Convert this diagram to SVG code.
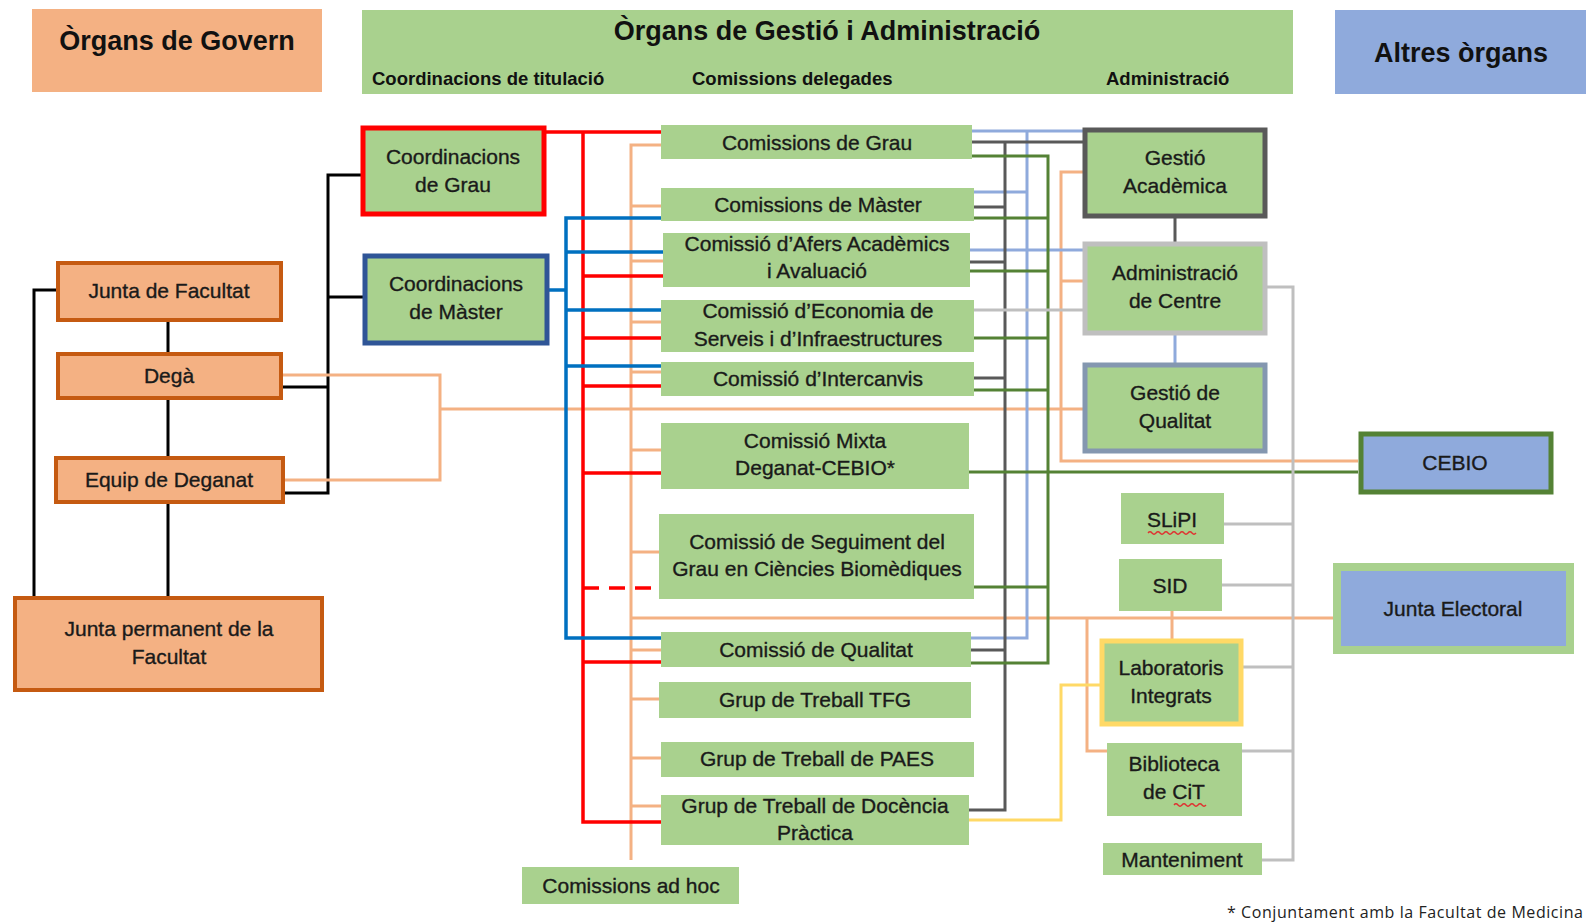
<svg xmlns="http://www.w3.org/2000/svg" width="1586" height="923" viewBox="0 0 1586 923">
<style>
.t{font-family:"Liberation Sans",Arial,sans-serif;font-size:21px;fill:#1a1a1a;stroke:#1a1a1a;stroke-width:0.35;text-anchor:middle}
.h{font-family:"Liberation Sans",Arial,sans-serif;font-weight:bold;font-size:27px;fill:#111;text-anchor:middle}
.s{font-family:"Liberation Sans",Arial,sans-serif;font-weight:bold;font-size:18.5px;fill:#111}
.fn{font-family:"Open Sans","Liberation Sans",sans-serif;font-size:16px;fill:#222}
.g{fill:#A9D18E}
.o{fill:#F4B183;stroke:#C55A11;stroke-width:4}
.c{fill:none;stroke-linejoin:miter}
.bk{stroke:#000;stroke-width:3}
.or{stroke:#F4B183;stroke-width:3}
.rd{stroke:#FF0000;stroke-width:3.5}
.bl{stroke:#0070C0;stroke-width:3.5}
.lb{stroke:#8FAADC;stroke-width:3}
.dg{stroke:#595959;stroke-width:3}
.gr{stroke:#548235;stroke-width:3}
.lg{stroke:#BFBFBF;stroke-width:3}
.ye{stroke:#FFD966;stroke-width:3}
.sq{fill:none;stroke:#E03030;stroke-width:1.3}
</style>

<!-- headers -->
<g id="hdr-govern">
  <rect x="32" y="9" width="290" height="83" fill="#F4B183"/>
  <text class="h" x="177" y="50">Òrgans de Govern</text>
</g>
<g id="hdr-gestio">
  <rect x="362" y="10" width="931" height="84" class="g"/>
  <text class="h" x="827" y="40">Òrgans de Gestió i Administració</text>
  <text class="s" x="372" y="85">Coordinacions de titulació</text>
  <text class="s" x="692" y="85">Comissions delegades</text>
  <text class="s" x="1106" y="85">Administració</text>
</g>
<g id="hdr-altres">
  <rect x="1335" y="10" width="251" height="84" fill="#8FAADC"/>
  <text class="h" x="1461" y="62">Altres òrgans</text>
</g>

<!-- connectors -->
<g id="connectors" class="c">
  <!-- black -->
  <path class="c bk" d="M168 320V354M168 398V458M168 502V596M58 290H34V596M362 175H328V493H283M364 297H328M281 387H328"/>
  <!-- light orange -->
  <path class="c or" d="M281 375H440V480H283M440 409H1083"/>
  <path class="c or" d="M661 145H631V860M631 206H661M631 261H663M631 322H661M631 372H661M631 450H661M631 552H659M631 650H661M631 699H659M631 758H661M631 806H661M631 618H1333"/>
  <path class="c or" d="M1083 172H1061V461H1358M1061 281H1083M1172 611V639M1087 618V751H1107"/>
  <!-- red -->
  <path class="c rd" d="M546 132H661M583 132V822H661M583 276H663M583 338H661M583 386H661M583 473H661M583 662H661"/>
  <path class="c rd" d="M583 588H659" stroke-dasharray="16 10"/>
  <!-- blue -->
  <path class="c bl" d="M548 290H566M661 218H566V638H661M566 252H663M566 310H661M566 366H661"/>
  <!-- light blue -->
  <path class="c lb" d="M972 131H1083M971 638H1027V131M974 192H1027M970 250H1083M1175 334V363"/>
  <!-- dark grey -->
  <path class="c dg" d="M972 142H1083M969 810H1005V142M974 207H1005M970 262H1005M974 378H1005M971 650H1005M1175 217V242"/>
  <!-- green -->
  <path class="c gr" d="M972 156H1048V663H971M974 218H1048M970 271H1048M974 338H1048M974 390H1048M969 472H1358M974 587H1048"/>
  <!-- light grey -->
  <path class="c lg" d="M974 310H1083M1267 287H1293V860H1262M1224 524H1293M1222 585H1293M1243 667H1293M1242 751H1293"/>
  <!-- yellow -->
  <path class="c ye" d="M969 820H1061V685H1100"/>
</g>

<!-- Òrgans de Govern -->
<g id="junta-facultat">
  <rect class="o" x="58" y="263" width="223" height="57"/>
  <text class="t" x="169" y="298">Junta de Facultat</text>
</g>
<g id="dega">
  <rect class="o" x="58" y="354" width="223" height="44"/>
  <text class="t" x="169" y="383">Degà</text>
</g>
<g id="equip-deganat">
  <rect class="o" x="56" y="458" width="227" height="44"/>
  <text class="t" x="169" y="487">Equip de Deganat</text>
</g>
<g id="junta-permanent">
  <rect class="o" x="15" y="598" width="307" height="92" stroke-width="6"/>
  <text class="t" x="169" y="636">Junta permanent de la</text>
  <text class="t" x="169" y="664">Facultat</text>
</g>

<!-- Coordinacions -->
<g id="coord-grau">
  <rect x="363" y="128" width="181" height="86" class="g" stroke="#FF0000" stroke-width="5"/>
  <text class="t" x="453" y="164">Coordinacions</text>
  <text class="t" x="453" y="192">de Grau</text>
</g>
<g id="coord-master">
  <rect x="365" y="256" width="182" height="87" class="g" stroke="#2F5597" stroke-width="5"/>
  <text class="t" x="456" y="291">Coordinacions</text>
  <text class="t" x="456" y="319">de Màster</text>
</g>

<!-- Comissions -->
<g id="com-grau">
  <rect x="661" y="125" width="311" height="34" class="g"/>
  <text class="t" x="817" y="150">Comissions de Grau</text>
</g>
<g id="com-master">
  <rect x="661" y="188" width="313" height="33" class="g"/>
  <text class="t" x="818" y="212">Comissions de Màster</text>
</g>
<g id="com-afers">
  <rect x="663" y="233" width="307" height="54" class="g"/>
  <text class="t" x="817" y="251">Comissió d’Afers Acadèmics</text>
  <text class="t" x="817" y="278">i Avaluació</text>
</g>
<g id="com-economia">
  <rect x="661" y="300" width="313" height="52" class="g"/>
  <text class="t" x="818" y="318">Comissió d’Economia de</text>
  <text class="t" x="818" y="346">Serveis i d’Infraestructures</text>
</g>
<g id="com-intercanvis">
  <rect x="661" y="362" width="313" height="34" class="g"/>
  <text class="t" x="818" y="386">Comissió d’Intercanvis</text>
</g>
<g id="com-mixta">
  <rect x="661" y="423" width="308" height="66" class="g"/>
  <text class="t" x="815" y="448">Comissió Mixta</text>
  <text class="t" x="815" y="475">Deganat-CEBIO*</text>
</g>
<g id="com-seguiment">
  <rect x="659" y="514" width="315" height="85" class="g"/>
  <text class="t" x="817" y="549">Comissió de Seguiment del</text>
  <text class="t" x="817" y="576">Grau en Ciències Biomèdiques</text>
</g>
<g id="com-qualitat">
  <rect x="661" y="632" width="310" height="35" class="g"/>
  <text class="t" x="816" y="657">Comissió de Qualitat</text>
</g>
<g id="gt-tfg">
  <rect x="659" y="682" width="312" height="36" class="g"/>
  <text class="t" x="815" y="707">Grup de Treball TFG</text>
</g>
<g id="gt-paes">
  <rect x="661" y="742" width="313" height="35" class="g"/>
  <text class="t" x="817" y="766">Grup de Treball de PAES</text>
</g>
<g id="gt-docencia">
  <rect x="661" y="795" width="308" height="50" class="g"/>
  <text class="t" x="815" y="813">Grup de Treball de Docència</text>
  <text class="t" x="815" y="840">Pràctica</text>
</g>
<g id="com-adhoc">
  <rect x="522" y="867" width="217" height="37" class="g"/>
  <text class="t" x="631" y="893">Comissions ad hoc</text>
</g>

<!-- Administració -->
<g id="gestio-academica">
  <rect x="1085" y="130" width="180" height="86" class="g" stroke="#595959" stroke-width="5"/>
  <text class="t" x="1175" y="165">Gestió</text>
  <text class="t" x="1175" y="193">Acadèmica</text>
</g>
<g id="administracio-centre">
  <rect x="1085" y="244" width="180" height="89" class="g" stroke="#BFBFBF" stroke-width="5"/>
  <text class="t" x="1175" y="280">Administració</text>
  <text class="t" x="1175" y="308">de Centre</text>
</g>
<g id="gestio-qualitat">
  <rect x="1085" y="365" width="180" height="86" class="g" stroke="#8497B0" stroke-width="5"/>
  <text class="t" x="1175" y="400">Gestió de</text>
  <text class="t" x="1175" y="428">Qualitat</text>
</g>
<g id="slipi">
  <rect x="1121" y="493" width="103" height="51" class="g"/>
  <text class="t" x="1172" y="527">SLiPI</text>
  <path class="sq" d="M1148 533q2 -2.5 4 0t4 0t4 0t4 0t4 0t4 0t4 0t4 0t4 0t4 0t4 0t4 0"/>
</g>
<g id="sid">
  <rect x="1119" y="559" width="103" height="52" class="g"/>
  <text class="t" x="1170" y="593">SID</text>
</g>
<g id="laboratoris">
  <rect x="1102" y="641" width="139" height="83" class="g" stroke="#FFD966" stroke-width="5"/>
  <text class="t" x="1171" y="675">Laboratoris</text>
  <text class="t" x="1171" y="703">Integrats</text>
</g>
<g id="biblioteca">
  <rect x="1107" y="743" width="135" height="73" class="g"/>
  <text class="t" x="1174" y="771">Biblioteca</text>
  <text class="t" x="1174" y="799">de CiT</text>
  <path class="sq" d="M1174 805q2 -2.5 4 0t4 0t4 0t4 0t4 0t4 0t4 0t4 0"/>
</g>
<g id="manteniment">
  <rect x="1103" y="843" width="159" height="32" class="g"/>
  <text class="t" x="1182" y="867">Manteniment</text>
</g>

<!-- Altres òrgans -->
<g id="cebio">
  <rect x="1361" y="434" width="190" height="58" fill="#8FAADC" stroke="#548235" stroke-width="5"/>
  <text class="t" x="1455" y="470">CEBIO</text>
</g>
<g id="junta-electoral">
  <rect x="1337" y="567" width="233" height="83" fill="#8FAADC" stroke="#A9D18E" stroke-width="8"/>
  <text class="t" x="1453" y="616">Junta Electoral</text>
</g>

<text class="fn" x="1227" y="918" textLength="356" lengthAdjust="spacing">* Conjuntament amb la Facultat de Medicina</text>
</svg>
